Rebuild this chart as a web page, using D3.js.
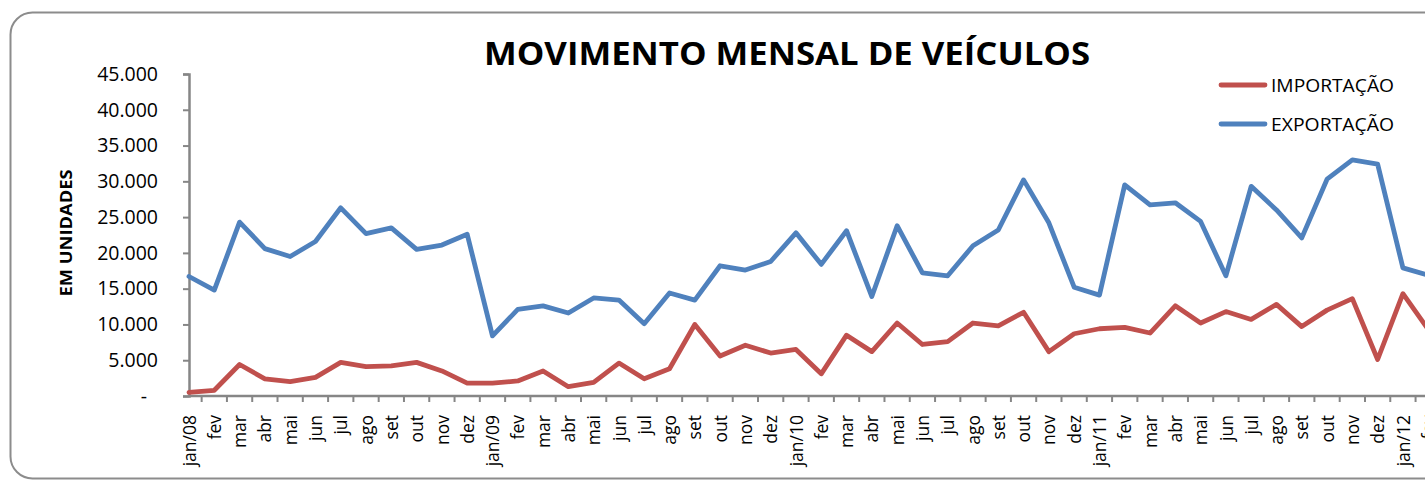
<!DOCTYPE html>
<html>
<head>
<meta charset="utf-8">
<script src="https://cdn.jsdelivr.net/npm/d3@7"></script>
<style>
  html, body { margin: 0; padding: 0; background: #fff; }
  svg { display: block; font-family: "Open Sans", "Noto Sans", sans-serif; }
</style>
</head>
<body>
<svg id="chart" width="1425" height="480"></svg>
<script>
const categories = [
  "jan/08","fev","mar","abr","mai","jun","jul","ago","set","out","nov","dez",
  "jan/09","fev","mar","abr","mai","jun","jul","ago","set","out","nov","dez",
  "jan/10","fev","mar","abr","mai","jun","jul","ago","set","out","nov","dez",
  "jan/11","fev","mar","abr","mai","jun","jul","ago","set","out","nov","dez",
  "jan/12","fev"
];
const importacao = [
  500, 800, 4400, 2400, 2000, 2600, 4700, 4100, 4200, 4700, 3500, 1800,
  1800, 2100, 3500, 1300, 1900, 4600, 2400, 3800, 10000, 5600, 7100, 6000,
  6500, 3100, 8500, 6200, 10200, 7200, 7600, 10200, 9800, 11700, 6200, 8700,
  9400, 9600, 8800, 12600, 10200, 11800, 10700, 12800, 9700, 12000, 13600, 5100,
  14300, 9300
];
const exportacao = [
  16700, 14800, 24300, 20600, 19500, 21600, 26300, 22700, 23500, 20500, 21100, 22600,
  8400, 12100, 12600, 11600, 13700, 13400, 10100, 14400, 13400, 18200, 17600, 18800,
  22800, 18400, 23100, 13900, 23800, 17200, 16800, 21000, 23200, 30200, 24200, 15200,
  14100, 29500, 26700, 27000, 24400, 16800, 29300, 26000, 22100, 30300, 33000, 32400,
  17900, 16900
];
const yTicks = [0, 5000, 10000, 15000, 20000, 25000, 30000, 35000, 40000, 45000];
const seriesNames = ["IMPORTAÇÃO", "EXPORTAÇÃO"];
const seriesColors = ["#C0504D", "#4F81BD"];
const title = "MOVIMENTO MENSAL DE VEÍCULOS";
const yTitle = "EM UNIDADES";

const svg = d3.select("#chart");
const axisColor = "#868686";

// outer rounded frame
svg.append("rect")
  .attr("x", 10.5).attr("y", 12.5)
  .attr("width", 1500).attr("height", 466)
  .attr("rx", 22).attr("ry", 22)
  .attr("fill", "#fff")
  .attr("stroke", "#8c8c8c").attr("stroke-width", 2);

const x0 = 189, step = 25.29;
const x = d3.scalePoint()
  .domain(d3.range(categories.length))
  .range([x0, x0 + step * (categories.length - 1)]);
const y = d3.scaleLinear().domain([0, 45000]).range([396, 74]);

// title
svg.append("text")
  .attr("x", 787).attr("y", 65)
  .attr("text-anchor", "middle")
  .attr("font-size", 32).attr("font-weight", 700)
  .attr("textLength", 606).attr("lengthAdjust", "spacingAndGlyphs")
  .attr("fill", "#000")
  .text(title);

// y axis title
svg.append("text")
  .attr("transform", "translate(72,233) rotate(-90)")
  .attr("text-anchor", "middle")
  .attr("font-size", 16).attr("font-weight", 700)
  .attr("textLength", 127).attr("lengthAdjust", "spacingAndGlyphs")
  .text(yTitle);

// y axis
const fmt = v => d3.format(",")(v).replace(/,/g, ".");
const yAxis = svg.append("g")
  .attr("transform", `translate(${x0},0)`)
  .call(d3.axisLeft(y).tickValues(yTicks).tickSize(6).tickPadding(25)
    .tickFormat(d => d === 0 ? "-" : fmt(d)));
yAxis.select(".domain").attr("stroke", axisColor).attr("stroke-width", 2.5);
yAxis.selectAll(".tick line").attr("stroke", axisColor).attr("stroke-width", 2);
yAxis.selectAll(".tick text")
  .attr("font-size", 19.5).attr("font-family", "'Open Sans', sans-serif").attr("fill", "#000")
  .attr("dx", d => d === 0 ? -11 : 0);

// x axis
const xAxis = svg.append("g")
  .attr("transform", "translate(0,396)")
  .call(d3.axisBottom(x).tickSize(0).tickFormat(i => categories[i]));
xAxis.select(".domain").remove();
svg.append("line")
  .attr("x1", x0).attr("x2", 1425).attr("y1", 396).attr("y2", 396)
  .attr("stroke", axisColor).attr("stroke-width", 2.5);
svg.append("g").selectAll("line")
  .data(d3.range(categories.length))
  .join("line")
  .attr("x1", i => x(i) + step / 2).attr("x2", i => x(i) + step / 2)
  .attr("y1", 396).attr("y2", 402)
  .attr("stroke", axisColor).attr("stroke-width", 2);
xAxis.selectAll(".tick text")
  .attr("font-size", 17.5).attr("font-family", "'Open Sans', sans-serif").attr("fill", "#000")
  .attr("text-anchor", "end")
  .attr("transform", "rotate(-90)")
  .attr("x", -19).attr("y", 0).attr("dy", "0.35em");

// lines
const lineGen = d3.line().x((d, i) => x(i)).y(d => y(d));
[importacao, exportacao].forEach((s, k) => {
  svg.append("path")
    .datum(s)
    .attr("fill", "none")
    .attr("stroke", seriesColors[k])
    .attr("stroke-width", 4.8)
    .attr("stroke-linejoin", "round")
    .attr("stroke-linecap", "round")
    .attr("d", lineGen);
});

// legend
const legY = [85, 124];
seriesNames.forEach((n, k) => {
  svg.append("line")
    .attr("x1", 1221).attr("x2", 1265).attr("y1", legY[k]).attr("y2", legY[k])
    .attr("stroke", seriesColors[k]).attr("stroke-width", 4.8)
    .attr("stroke-linecap", "round");
  svg.append("text")
    .attr("x", 1271).attr("y", legY[k] + 7)
    .attr("font-size", 19)
    .attr("textLength", 123).attr("lengthAdjust", "spacingAndGlyphs")
    .attr("fill", "#000")
    .text(n);
});
</script>
</body>
</html>
